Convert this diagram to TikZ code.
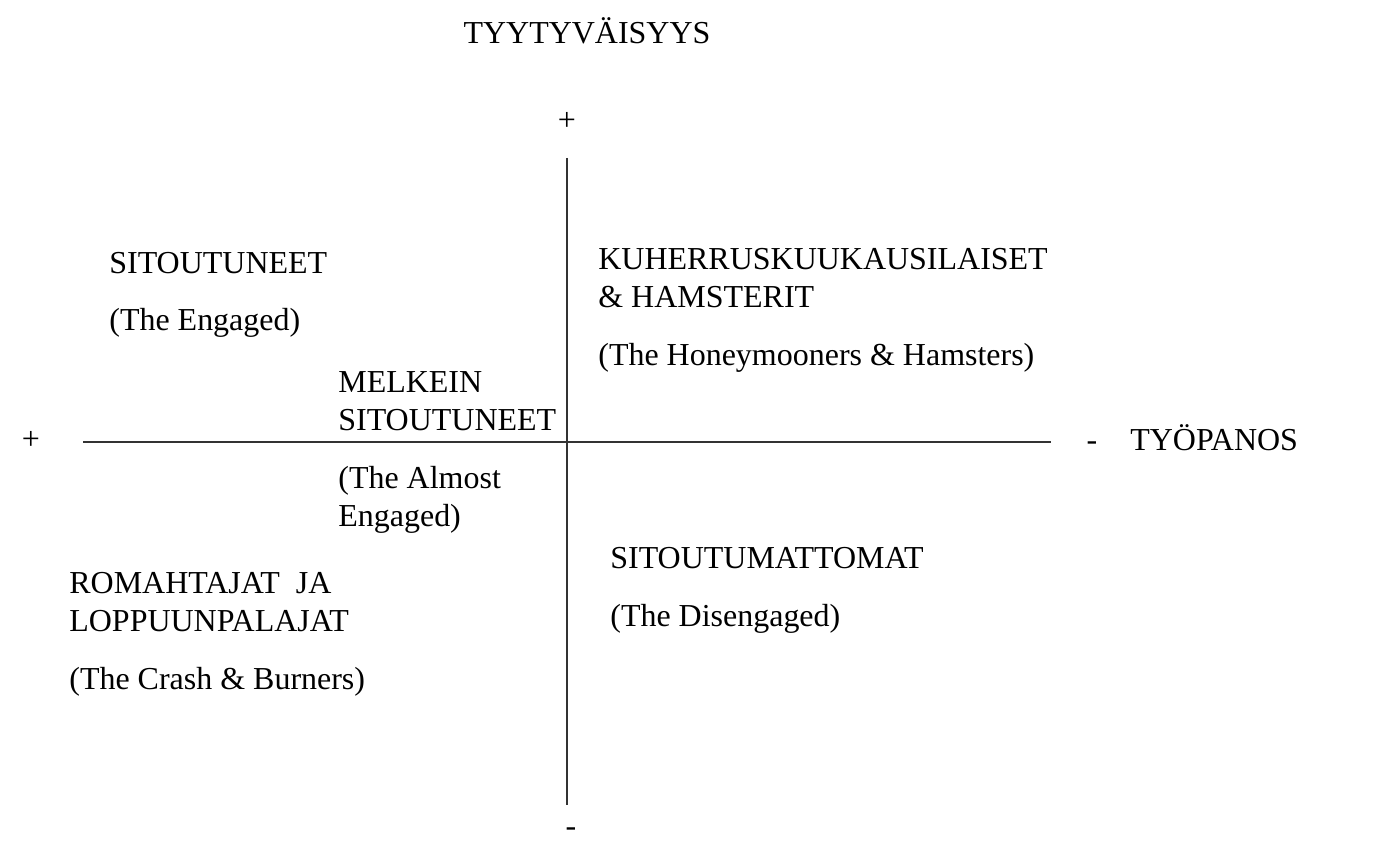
\documentclass[tikz,border=0pt]{standalone}
\usepackage{fontspec}
\setmainfont{Liberation Serif}
\begin{document}
\begin{tikzpicture}[x=0.02cm, y=-0.02cm,
  lbl/.style={font=\fontsize{18.2}{21.6}\selectfont, inner sep=0pt},
  quad/.style={lbl, anchor=base west, align=left}]
\useasboundingbox (0,0) rectangle (1373,841);
  % axes
  \coordinate (top) at (567,158);
  \coordinate (bottom) at (567,805);
  \coordinate (left) at (83,442);
  \coordinate (right) at (1051,442);
  \draw[line width=1.1pt, black!80] (top) -- (bottom);
  \draw[line width=1.1pt, black!80] (left) -- (right);
  \node[lbl] (ytitle) at (587,31) {TYYTYVÄISYYS};
  \node[lbl] (yplus) at (567,121) {+};
  \node[lbl] (yminus) at (571,832) {-};
  \node[lbl] (xplus) at (31,440) {+};
  \node[lbl] (xminus) at (1092,446) {-};
  \node[lbl, anchor=west] (xtitle) at (1130,438) {TYÖPANOS};
  % quadrants (anchored at the baseline of the last line)
  \node[quad] (engaged) at (109,331) {SITOUTUNEET\\[11.4pt](The Engaged)};
  \node[quad] (honey) at (598,365)
    {KUHERRUSKUUKAUSILAISET\\\& HAMSTERIT\\[11.4pt](The Honeymooners \& Hamsters)};
  \node[quad] (almost) at (338,526)
    {MELKEIN\\SITOUTUNEET\\[11.4pt](The Almost\\Engaged)};
  \node[quad] (disengaged) at (610,626) {SITOUTUMATTOMAT\\[11.4pt](The Disengaged)};
  \node[quad] (crash) at (69,689)
    {ROMAHTAJAT\ \ JA\\LOPPUUNPALAJAT\\[11.4pt](The Crash \& Burners)};
\end{tikzpicture}
\end{document}
